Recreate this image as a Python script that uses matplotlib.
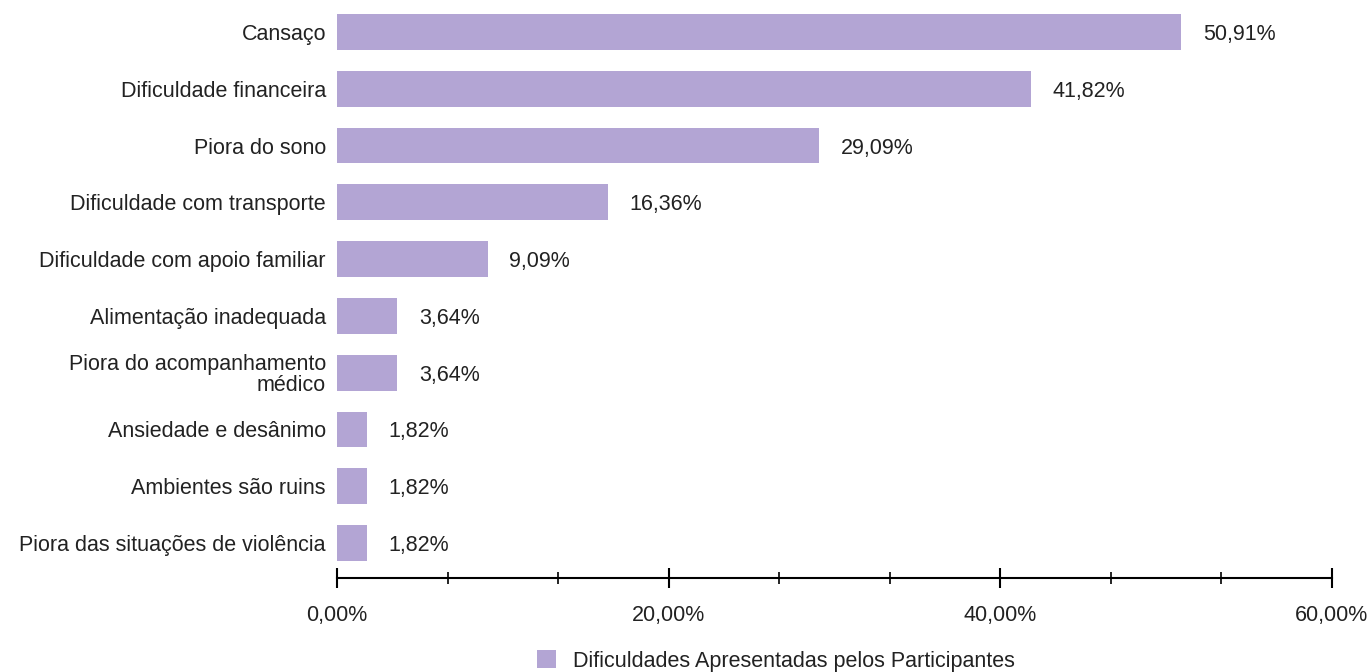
import matplotlib.pyplot as plt
import numpy as np
from matplotlib.ticker import MultipleLocator, FuncFormatter

categorias = ["Cansaço", "Dificuldade financeira", "Piora do sono",
              "Dificuldade com transporte", "Dificuldade com apoio familiar",
              "Alimentação inadequada", "Piora do acompanhamento\nmédico",
              "Ansiedade e desânimo", "Ambientes são ruins",
              "Piora das situações de violência"]
valores = [50.91, 41.82, 29.09, 16.36, 9.09, 3.64, 3.64, 1.82, 1.82, 1.82]
serie = "Dificuldades Apresentadas pelos Participantes"

plt.rcParams['font.family'] = ['Liberation Sans', 'DejaVu Sans']
cor = "#b3a5d4"
fs = 15.5

fig = plt.figure(figsize=(13.72, 6.72), dpi=100)
ax = fig.add_axes([337/1372, 1 - 578/672, 995/1372, (578 - 5)/672])

y = np.arange(len(categorias))
barras = ax.barh(y, valores, height=0.63, color=cor, label=serie)
for v, yi in zip(valores, y):
    ax.text(v + 1.3, yi, f"{v:.2f}%".replace(".", ","), va="center_baseline",
            ha="left", fontsize=fs, color="#222222")

ax.set_xlim(0, 60)
ax.set_ylim(9.616, -0.475)
ax.set_yticks(y)
ax.set_yticklabels(categorias, fontsize=fs, color="#222222", linespacing=1.0)
ax.tick_params(axis="y", length=0, pad=8)
for lbl in ax.get_yticklabels():
    lbl.set_multialignment("right")

ax.xaxis.set_major_locator(MultipleLocator(20))
ax.xaxis.set_minor_locator(MultipleLocator(20 / 3))
ax.xaxis.set_major_formatter(FuncFormatter(lambda x, p: f"{x:.2f}%".replace(".", ",")))
ax.tick_params(axis="x", which="major", direction="inout", length=15, width=1.5,
               labelsize=fs, pad=12, labelcolor="#222222")
ax.tick_params(axis="x", which="minor", direction="inout", length=9, width=1.2)

for s in ["top", "right", "left"]:
    ax.spines[s].set_visible(False)
ax.spines["bottom"].set_linewidth(1.5)

fig.legend(handles=[barras], labels=[serie], loc="center",
           bbox_to_anchor=(776/1372, 1 - 661/672), frameon=False,
           fontsize=fs, handlelength=0.9, handleheight=0.9, handletextpad=0.8,
           labelcolor="#222222")

fig.savefig("out.png", dpi=100)
